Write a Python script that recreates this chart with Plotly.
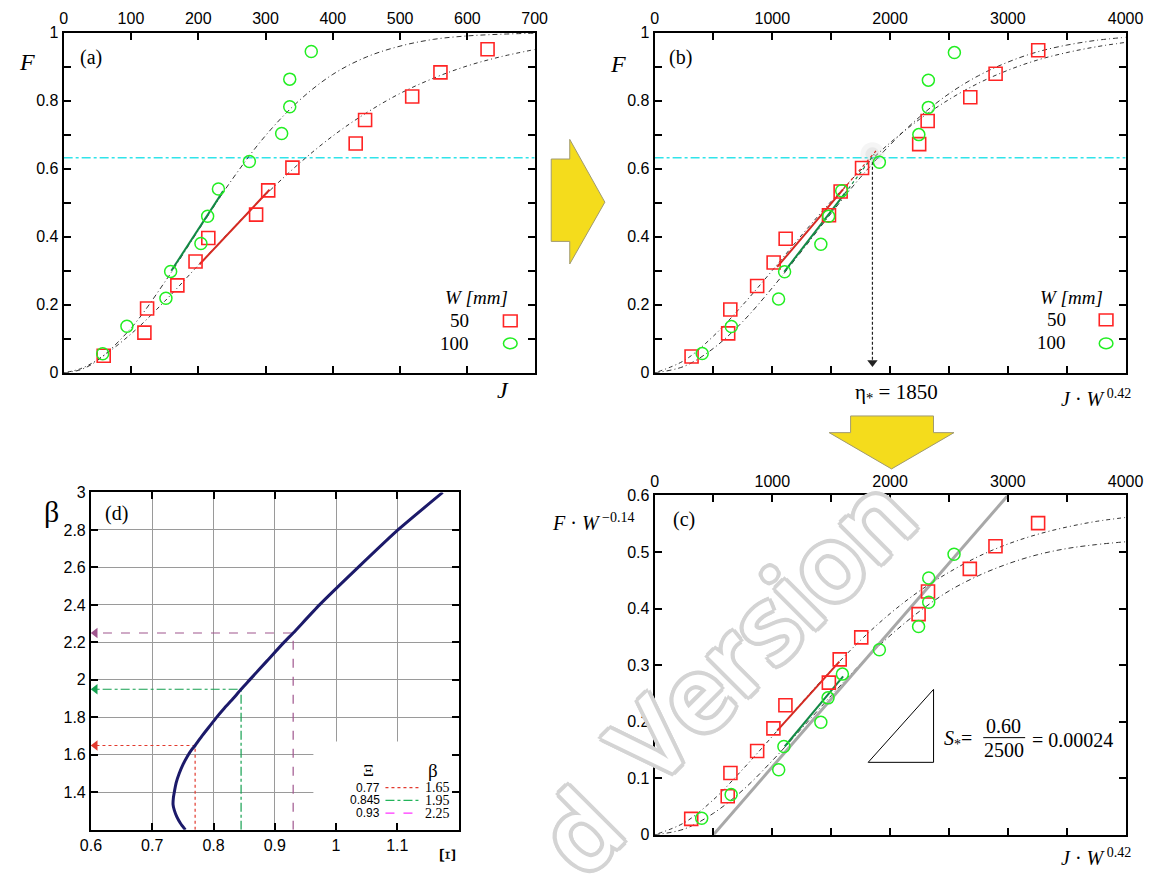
import plotly.graph_objects as go

FIG_W, FIG_H = 1167, 880

# ---------------- data ----------------
# (a) raw failure probability F against J, two widths W = 50 mm and 100 mm
J_50 = [59.5, 120, 124, 169, 196, 215, 286, 304, 340, 434, 448, 518, 560, 630]
F_50 = [0.050, 0.118, 0.189, 0.257, 0.327, 0.396, 0.465, 0.536, 0.603, 0.674, 0.743, 0.812, 0.883, 0.951]
J_100 = [58, 94, 152, 159, 204, 214, 230, 276, 324, 336, 336, 368]
F_100 = [0.056, 0.137, 0.219, 0.298, 0.380, 0.460, 0.540, 0.621, 0.703, 0.782, 0.863, 0.944]

J_fit = [0, 25, 50, 100, 150, 200, 250, 300, 350, 400, 450, 500, 550, 600, 650, 700]
Ffit_50 = [0, 0.012, 0.038, 0.114, 0.210, 0.316, 0.422, 0.523, 0.615, 0.696, 0.764, 0.821, 0.866, 0.902, 0.929, 0.950]
Ffit_100 = [0, 0.009, 0.036, 0.131, 0.266, 0.418, 0.567, 0.697, 0.800, 0.877, 0.928, 0.960, 0.980, 0.990, 0.995, 0.998]

lin_a_50_J = [202, 306]
lin_a_50_F = [0.319, 0.538]
lin_a_100_J = [160, 237]
lin_a_100_F = [0.300, 0.534]

F_LEVEL = 0.632

# (b) F against J*W^0.42
X_50 = [314, 625, 643, 871, 1011, 1113, 1481, 1580, 1762, 2247, 2319, 2681, 2896, 3258]
Fb_50 = [0.048, 0.116, 0.186, 0.255, 0.324, 0.394, 0.463, 0.533, 0.602, 0.672, 0.740, 0.810, 0.879, 0.948]
X_100 = [404, 652, 1053, 1104, 1412, 1478, 1589, 1909, 2244, 2325, 2325, 2546]
Fb_100 = [0.057, 0.136, 0.217, 0.297, 0.378, 0.460, 0.535, 0.619, 0.700, 0.780, 0.860, 0.941]

X_fit = [0, 250, 500, 750, 1000, 1250, 1500, 1750, 2000, 2250, 2500, 2750, 3000, 3250, 3500, 3750, 4000]
Fbfit_50 = [0, 0.036, 0.108, 0.200, 0.301, 0.405, 0.504, 0.595, 0.676, 0.745, 0.803, 0.851, 0.889, 0.919, 0.941, 0.958, 0.971]
Fbfit_100 = [0, 0.019, 0.072, 0.151, 0.250, 0.358, 0.469, 0.575, 0.670, 0.752, 0.820, 0.873, 0.913, 0.943, 0.963, 0.977, 0.986]

lin_b_50_X = [1041, 1601]
lin_b_50_F = [0.311, 0.539]
lin_b_100_X = [1101, 1616]
lin_b_100_F = [0.297, 0.527]
ext_b_50_X = [1601, 1880]
ext_b_50_F = [0.539, 0.652]
ext_b_100_X = [1616, 1865]
ext_b_100_F = [0.527, 0.642]

ETA_STAR = 1850
eta_arrow_F = [0.62, 0.03]

# (c) F*W^-0.14 against J*W^0.42
Xc_50 = [311, 621, 644, 871, 1009, 1111, 1480, 1572, 1755, 2242, 2322, 2677, 2895, 3257]
Yc_50 = [0.028, 0.068, 0.109, 0.148, 0.188, 0.229, 0.269, 0.310, 0.349, 0.390, 0.430, 0.470, 0.510, 0.551]
Xc_100 = [400, 650, 1054, 1098, 1412, 1473, 1595, 1909, 2242, 2328, 2328, 2543]
Yc_100 = [0.029, 0.071, 0.115, 0.156, 0.199, 0.242, 0.284, 0.327, 0.368, 0.411, 0.454, 0.496]

Ycfit_50 = [0, 0.021, 0.062, 0.116, 0.174, 0.234, 0.291, 0.344, 0.391, 0.431, 0.464, 0.492, 0.514, 0.531, 0.544, 0.554, 0.561]
Ycfit_100 = [0, 0.010, 0.038, 0.079, 0.131, 0.188, 0.246, 0.302, 0.352, 0.395, 0.431, 0.458, 0.479, 0.495, 0.506, 0.513, 0.518]

lin_c_50_X = [1041, 1569]
lin_c_50_Y = [0.184, 0.306]
lin_c_100_X = [1105, 1601]
lin_c_100_Y = [0.156, 0.280]

slope_X = [500, 3000]
slope_Y = [0.0, 0.60]
tri_X = [1814, 2369, 2369, 1814]
tri_Y = [0.128, 0.128, 0.257, 0.128]

# (d) beta against Xi
xi_curve = [0.754, 0.746, 0.740, 0.736, 0.734, 0.7345, 0.736, 0.739, 0.744, 0.7505, 0.757,
            0.765, 0.770, 0.781, 0.793, 0.805, 0.818, 0.832, 0.845, 0.859, 0.887,
            0.915, 0.930, 0.973, 1.036, 1.101, 1.174]
beta_curve = [1.20, 1.235, 1.27, 1.305, 1.335, 1.37, 1.40, 1.45, 1.50, 1.55, 1.59,
              1.63, 1.65, 1.70, 1.75, 1.80, 1.85, 1.90, 1.95, 2.00, 2.10,
              2.20, 2.25, 2.40, 2.60, 2.80, 3.00]
xi_read = [0.77, 0.845, 0.93]
beta_read = [1.65, 1.95, 2.25]
read_colors = ["#e23a2e", "#14a050", "#a0568e"]
read_legend_colors = ["#e23a2e", "#22b45a", "#ff33ff"]
read_dash = ["dot", "dashdot", "dash"]
XI_MIN, BETA_MIN = 0.6, 1.2

RED = "#ff2424"
GREEN = "#22ee22"
FIT_RED = "#d42a22"
FIT_GREEN = "#128a45"
CURVE = "#333333"
CYAN = "#30e4ea"

SANS = "Liberation Sans"
SERIF = "Liberation Serif"


def px(x):
    return x / FIG_W


def py(y):
    return 1 - y / FIG_H


fig = go.Figure()


def line(x, y, xa, ya, color, width=1.0, dash="solid", shape="linear", smoothing=1.0):
    fig.add_trace(go.Scatter(x=x, y=y, xaxis=xa, yaxis=ya, mode="lines",
                             line=dict(color=color, width=width, dash=dash, shape=shape,
                                       smoothing=smoothing),
                             hoverinfo="skip", showlegend=False))


def squares(x, y, xa, ya):
    fig.add_trace(go.Scatter(x=x, y=y, xaxis=xa, yaxis=ya, mode="markers",
                             marker=dict(symbol="square-open", size=13, color=RED,
                                         line=dict(width=1.6, color=RED)),
                             showlegend=False))


def circles(x, y, xa, ya):
    fig.add_trace(go.Scatter(x=x, y=y, xaxis=xa, yaxis=ya, mode="markers",
                             marker=dict(symbol="circle-open", size=12, color=GREEN,
                                         line=dict(width=1.5, color=GREEN)),
                             showlegend=False))


# ---- panel (a)
line([0, 700], [F_LEVEL, F_LEVEL], "x", "y", CYAN, 1.3, "dashdot")
line(J_fit, Ffit_100, "x", "y", CURVE, 1, "5px,3px,1px,3px", "spline")
line(J_fit, Ffit_50, "x", "y", CURVE, 1, "1px,3px,4px,3px", "spline")
line(lin_a_100_J, lin_a_100_F, "x", "y", FIT_GREEN, 2)
line(lin_a_50_J, lin_a_50_F, "x", "y", FIT_RED, 2)
squares(J_50, F_50, "x", "y")
circles(J_100, F_100, "x", "y")

# ---- panel (b)
line([0, 4000], [F_LEVEL, F_LEVEL], "x2", "y2", CYAN, 1.3, "dashdot")
line(X_fit, Fbfit_50, "x2", "y2", CURVE, 1, "1px,3px,4px,3px", "spline")
line(X_fit, Fbfit_100, "x2", "y2", CURVE, 1, "5px,3px,1px,3px", "spline")
fig.add_trace(go.Scatter(x=[ETA_STAR], y=[0.642], xaxis="x2", yaxis="y2", mode="markers",
                         marker=dict(size=24, color="rgba(190,190,190,0.16)"),
                         hoverinfo="skip", showlegend=False))
fig.add_trace(go.Scatter(x=[ETA_STAR], y=[0.642], xaxis="x2", yaxis="y2", mode="markers",
                         marker=dict(size=14, color="rgba(185,185,185,0.22)"),
                         hoverinfo="skip", showlegend=False))
line(ext_b_50_X, ext_b_50_F, "x2", "y2", FIT_RED, 1.2, "dot")
line(ext_b_100_X, ext_b_100_F, "x2", "y2", FIT_GREEN, 1.2, "dot")
line(lin_b_50_X, lin_b_50_F, "x2", "y2", FIT_RED, 2)
line(lin_b_100_X, lin_b_100_F, "x2", "y2", FIT_GREEN, 2)
line([ETA_STAR, ETA_STAR], eta_arrow_F, "x2", "y2", "#222222", 1.2, "3px,2px")
fig.add_trace(go.Scatter(x=[ETA_STAR], y=[eta_arrow_F[1]], xaxis="x2", yaxis="y2", mode="markers",
                         marker=dict(symbol="triangle-down", size=9, color="#222222"),
                         hoverinfo="skip", showlegend=False))
squares(X_50, Fb_50, "x2", "y2")
circles(X_100, Fb_100, "x2", "y2")

# ---- panel (c)
line(X_fit, Ycfit_50, "x3", "y3", CURVE, 1, "1px,3px,4px,3px", "spline")
line(X_fit, Ycfit_100, "x3", "y3", CURVE, 1, "5px,3px,1px,3px", "spline")
line(slope_X, slope_Y, "x3", "y3", "#a8a8a8", 3)
line(lin_c_50_X, lin_c_50_Y, "x3", "y3", FIT_RED, 2)
line(lin_c_100_X, lin_c_100_Y, "x3", "y3", FIT_GREEN, 2)
line(tri_X, tri_Y, "x3", "y3", "#000000", 1)
squares(Xc_50, Yc_50, "x3", "y3")
circles(Xc_100, Yc_100, "x3", "y3")

# ---- panel (d)
for xi, b, col, dsh in zip(xi_read, beta_read, read_colors, read_dash):
    line([xi, xi, XI_MIN + 0.008], [BETA_MIN, b, b], "x4", "y4", col, 1.2, dsh)
    fig.add_trace(go.Scatter(x=[XI_MIN + 0.007], y=[b], xaxis="x4", yaxis="y4", mode="markers",
                             marker=dict(symbol="triangle-left", size=9, color=col),
                             hoverinfo="skip", showlegend=False))
line(xi_curve, beta_curve, "x4", "y4", "#1c1a6a", 3, "solid", "spline", 0.6)

# ---------------- axes ----------------
AX = dict(showline=True, linecolor="black", linewidth=2, mirror="allticks",
          ticks="inside", ticklen=7, tickwidth=1.5, tickcolor="black",
          showgrid=False, zeroline=False,
          tickfont=dict(family=SANS, size=16, color="black"))

F_ticks = [i / 10 for i in range(11)]
F_text = ["0", " ", "0.2", " ", "0.4", " ", "0.6", " ", "0.8", " ", "1"]
X4k_ticks = list(range(0, 4001, 500))
X4k_text = ["0" if v == 0 else (str(v) if v % 1000 == 0 else " ") for v in X4k_ticks]

dom_ab_y = [py(372), py(25)]
dom_b_x = [px(660), px(1143)]

fig.update_layout(
    width=FIG_W, height=FIG_H, autosize=False,
    margin=dict(l=0, r=0, t=0, b=0),
    paper_bgcolor="white", plot_bgcolor="white",
    xaxis=dict(AX, domain=[px(54), px(537)], range=[0, 700], side="top",
               tickvals=list(range(0, 701, 100)), anchor="y"),
    yaxis=dict(AX, domain=dom_ab_y, range=[0, 1], tickvals=F_ticks, ticktext=F_text, anchor="x"),
    xaxis2=dict(AX, domain=dom_b_x, range=[0, 4000], side="top",
                tickvals=X4k_ticks, ticktext=X4k_text, anchor="y2"),
    yaxis2=dict(AX, domain=dom_ab_y, range=[0, 1], tickvals=F_ticks, ticktext=F_text, anchor="x2"),
    xaxis3=dict(AX, domain=dom_b_x, range=[0, 4000], side="top",
                tickvals=X4k_ticks, ticktext=X4k_text, anchor="y3"),
    yaxis3=dict(AX, domain=[py(843), py(497)], range=[0, 0.6],
                tickvals=[i / 10 for i in range(7)],
                ticktext=["0", "0.1", "0.2", "0.3", "0.4", "0.5", "0.6"], anchor="x3"),
    xaxis4=dict(AX, domain=[px(82), px(459)], range=[0.6, 1.2],
                tickvals=[0.6, 0.7, 0.8, 0.9, 1.0, 1.1],
                ticktext=["0.6", "0.7", "0.8", "0.9", "1", "1.1"],
                showgrid=True, gridcolor="#9a9a9a", gridwidth=1, anchor="y4"),
    yaxis4=dict(AX, domain=[py(838), py(494)], range=[1.2, 3.0],
                tickvals=[1.4, 1.6, 1.8, 2.0, 2.2, 2.4, 2.6, 2.8, 3.0],
                ticktext=["1.4", "1.6", "1.8", "2", "2.2", "2.4", "2.6", "2.8", "3"],
                showgrid=True, gridcolor="#9a9a9a", gridwidth=1, anchor="x4"),
)

# ---------------- shapes ----------------
shapes = []
YELLOW = "#f4dc1c"
right_arrow = [(554, 154), (573, 154), (573, 134), (609, 198), (573, 261), (573, 238), (554, 238)]
down_arrow = [(861, 416), (946, 416), (946, 433), (967, 433), (903, 470), (839, 433), (861, 433)]
for poly in (right_arrow, down_arrow):
    path = "M " + " L ".join(f"{px(a):.5f},{py(b):.5f}" for a, b in poly) + " Z"
    shapes.append(dict(type="path", xref="paper", yref="paper", path=path,
                       fillcolor=YELLOW, line=dict(color="#a09a70", width=1)))

# white box behind the (d) key
shapes.append(dict(type="rect", xref="x4", yref="y4", x0=0.963, x1=1.2, y0=1.2, y1=1.671,
                   fillcolor="white", line=dict(width=0), layer="between"))

# key symbols for (a) and (b)
for cx in (512, 1123):
    sq_y = 319 if cx == 512 else 318
    shapes.append(dict(type="rect", xref="paper", yref="paper",
                       x0=px(cx - 7), x1=px(cx + 7), y0=py(sq_y + 6), y1=py(sq_y - 6),
                       line=dict(color=RED, width=1.6)))
    shapes.append(dict(type="circle", xref="paper", yref="paper",
                       x0=px(cx - 7), x1=px(cx + 7), y0=py(342 + 5.5), y1=py(342 - 5.5),
                       line=dict(color=GREEN, width=1.5)))

# key lines for (d)
KEY_Y = [795, 808, 821]
for yy, col, dsh in zip(KEY_Y, read_legend_colors, read_dash):
    shapes.append(dict(type="line", xref="paper", yref="paper",
                       x0=px(384), x1=px(418), y0=py(yy), y1=py(yy),
                       line=dict(color=col, width=1.2, dash=dsh)))

# fraction bar of the slope label
shapes.append(dict(type="line", xref="paper", yref="paper",
                   x0=px(997), x1=px(1040), y0=py(744), y1=py(744),
                   line=dict(color="black", width=1)))

fig.update_layout(shapes=shapes)

# ---------------- annotations ----------------
ann = []


def text(x, y, s, size=20, family=SERIF, xanchor="center", yanchor="middle", angle=0):
    ann.append(dict(x=px(x), y=py(y), xref="paper", yref="paper", text=s, showarrow=False,
                    xanchor=xanchor, yanchor=yanchor, textangle=angle,
                    font=dict(family=family, size=size, color="black")))


# faint outlined watermark across panel (c)
WM = "#d4d4d4"
WM_SHADOW = ", ".join(f"{dx}px {dy}px 0 {WM}" for dx, dy in
                      [(-3, -3), (3, -3), (-3, 3), (3, 3), (0, -4), (0, 4), (-4, 0), (4, 0)])
for s, (wx, wy) in (("Version", (768, 632)), ("d", (582, 838))):
    ann.append(dict(x=px(wx), y=py(wy), xref="paper", yref="paper", text=s,
                    showarrow=False, xanchor="center", yanchor="middle", textangle=-45,
                    font=dict(family="Open Sans", size=104, color="white", weight=600,
                              shadow=WM_SHADOW)))

text(82, 50, "(a)", 20)
text(687, 50, "(b)", 20)
text(690, 522, "(c)", 20)
text(108, 515, "(d)", 20)

text(16, 55, "<i>F</i>", 24)
text(622, 57, "<i>F</i>", 24)
text(505, 390, "<i>J</i>", 24)
text(1113, 398, "<i>J</i> · <i>W</i><sup> 0.42</sup>", 20)
text(1113, 866, "<i>J</i> · <i>W</i><sup> 0.42</sup>", 20)
text(641, 524, "<i>F</i> · <i>W</i><sup> −0.14</sup>", 20, xanchor="right")
text(42, 513, "β", 30)
text(448, 864, "Ξ", 24, angle=90)

text(908, 393, "η<sub>*</sub> = 1850", 21)

# keys of (a) and (b)
text(477, 295, "<i>W [mm]</i>", 19)
text(472, 319, "50", 19, xanchor="right")
text(472, 342, "100", 19, xanchor="right")
text(1088, 295, "<i>W [mm]</i>", 19)
text(1084, 318, "50", 19, xanchor="right")
text(1084, 341, "100", 19, xanchor="right")

# key of (d)
text(367, 778, "Ξ", 17)
text(433, 778, "β", 19)
for yy, xi, b in zip(KEY_Y, xi_read, beta_read):
    text(380, yy, f"{xi:g}", 12, family=SANS, xanchor="right")
    text(422, yy, f"{b:.2f}", 14, xanchor="left")

# slope label
text(988, 746, "<i>S</i><sub>*</sub>=", 20, xanchor="right")
text(1018, 732, "0.60", 20)
text(1018, 757, "2500", 20)
text(1045, 746, "= 0.00024", 20, xanchor="left")

fig.update_layout(annotations=ann)

fig.write_html("out.html")
